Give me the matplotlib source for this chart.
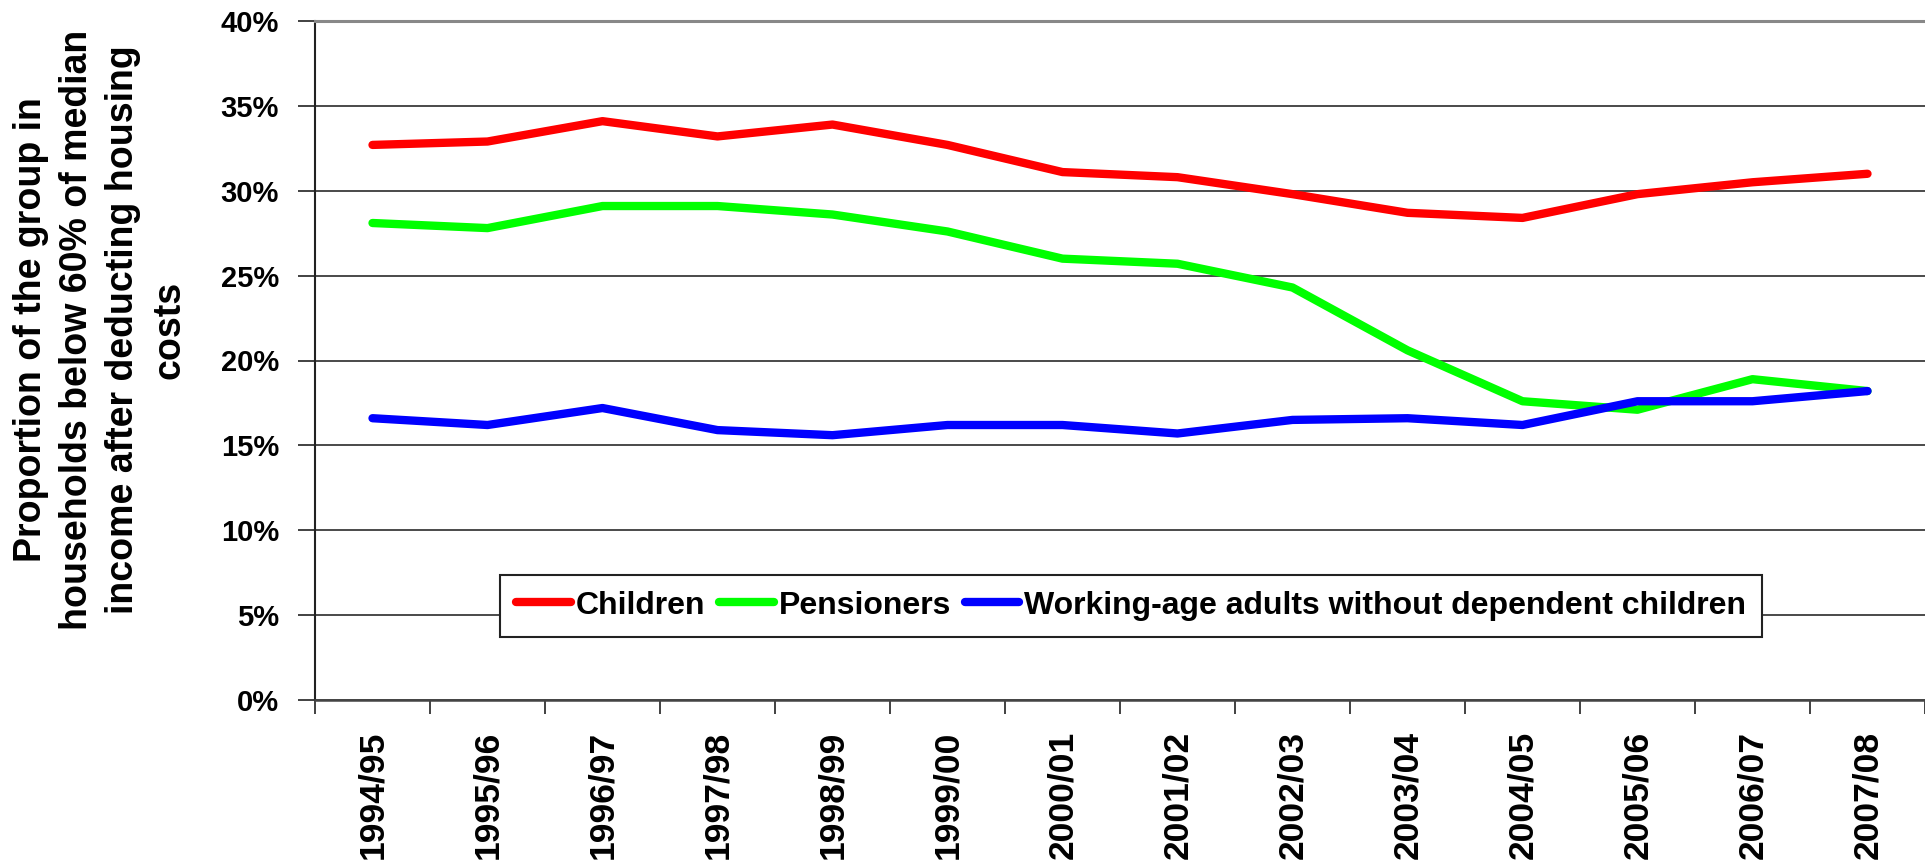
import numpy as np
import matplotlib
matplotlib.use("Agg")
import matplotlib.pyplot as plt
from matplotlib.ticker import FixedLocator, PercentFormatter

years = ["1994/95", "1995/96", "1996/97", "1997/98", "1998/99", "1999/00", "2000/01",
         "2001/02", "2002/03", "2003/04", "2004/05", "2005/06", "2006/07", "2007/08"]
children = [32.7, 32.9, 34.1, 33.2, 33.9, 32.7, 31.1, 30.8, 29.8, 28.7, 28.4, 29.8, 30.5, 31.0]
pensioners = [28.1, 27.8, 29.1, 29.1, 28.6, 27.6, 26.0, 25.7, 24.3, 20.6, 17.6, 17.1, 18.9, 18.2]
working_age = [16.6, 16.2, 17.2, 15.9, 15.6, 16.2, 16.2, 15.7, 16.5, 16.6, 16.2, 17.6, 17.6, 18.2]
series = [("Children", children, "#FF0000"),
          ("Pensioners", pensioners, "#00FF00"),
          ("Working-age adults without dependent children", working_age, "#0000FF")]

plt.rcParams["font.family"] = ["Liberation Sans", "DejaVu Sans"]
plt.rcParams["font.weight"] = "bold"

fig = plt.figure(figsize=(19.25, 8.68), dpi=100)
ax = fig.add_axes([315 / 1925, 1 - 700 / 868, 1 - 315 / 1925, (700 - 21) / 868])

x = np.arange(len(years))
for name, vals, col in series:
    ax.plot(x, vals, color=col, lw=6, label=name, solid_capstyle="round", solid_joinstyle="round")

ax.set_xlim(-0.5, len(years) - 0.5)
ax.set_ylim(0, 40)
ax.set_yticks(np.arange(0, 41, 5))
ax.yaxis.set_major_formatter(PercentFormatter(decimals=0))
ax.set_xticks(x)
ax.set_xticklabels(years, rotation=90, fontsize=25.5, fontweight="bold")
ax.xaxis.set_minor_locator(FixedLocator(np.arange(-0.5, len(years), 1.0)))
ax.tick_params(axis="x", which="major", length=0, pad=22)
ax.tick_params(axis="x", which="minor", length=10, width=1.3, color="#333333", direction="out")
ax.tick_params(axis="y", length=12, width=1.3, color="#333333", pad=14, labelsize=21)
for lbl in ax.get_yticklabels():
    lbl.set_fontweight("bold")

ax.grid(axis="y", color="#4a4a4a", lw=1.4)
ax.set_axisbelow(True)
ax.spines["right"].set_visible(False)
ax.spines["top"].set_color("#888888")
ax.spines["top"].set_linewidth(2.2)
ax.spines["left"].set_color("#222222")
ax.spines["left"].set_linewidth(1.5)
ax.spines["bottom"].set_color("#444444")
ax.spines["bottom"].set_linewidth(1.8)

leg = ax.legend(loc="center", bbox_to_anchor=(0.507, 0.139), ncol=3,
                frameon=True, fancybox=False, framealpha=1, edgecolor="#222222",
                handlelength=1.7, handletextpad=0.15, columnspacing=0.45,
                borderpad=0.5, borderaxespad=0,
                prop={"weight": "bold", "size": 23})
leg.get_frame().set_linewidth(1.5)

fig.text(100 / 1925, 1 - 330 / 868,
         "Proportion of the group in\nhouseholds below 60% of median\nincome after deducting housing\ncosts",
         rotation=90, ha="center", va="center", multialignment="center",
         fontsize=27, fontweight="bold", linespacing=1.36)

fig.savefig("out.png", dpi=100)
